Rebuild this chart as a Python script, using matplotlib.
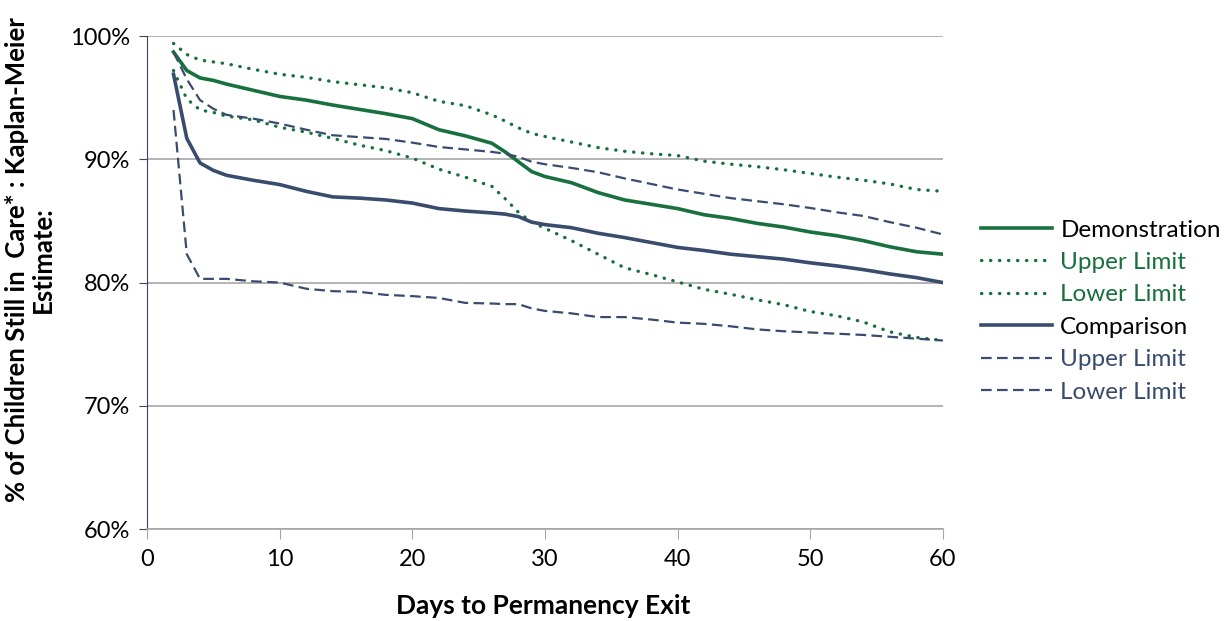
import matplotlib
matplotlib.use("Agg")
import matplotlib.pyplot as plt
from matplotlib.ticker import FuncFormatter

plt.rcParams["font.family"] = ["Lato", "DejaVu Sans"]

# days since entry
days = [2, 3, 4, 5, 6, 8, 10, 12, 14, 16, 18, 20, 22, 24, 26, 27, 28, 29, 30,
        32, 34, 36, 38, 40, 42, 44, 46, 48, 50, 52, 54, 56, 58, 60]

demo = [98.7, 97.2, 96.6, 96.4, 96.1, 95.6, 95.1, 94.8, 94.4, 94.05, 93.7, 93.3,
        92.4, 91.9, 91.3, 90.6, 89.8, 89.0, 88.6, 88.1, 87.3, 86.7, 86.35, 86.0,
        85.5, 85.2, 84.8, 84.5, 84.1, 83.8, 83.4, 82.9, 82.5, 82.3]
demo_upper = [99.4, 98.5, 98.05, 97.9, 97.75, 97.3, 96.9, 96.65, 96.3, 96.05,
              95.8, 95.4, 94.7, 94.35, 93.6, 93.1, 92.55, 92.1, 91.85, 91.4,
              90.95, 90.65, 90.45, 90.3, 89.85, 89.6, 89.4, 89.15, 88.85, 88.55,
              88.3, 88.0, 87.55, 87.4]
demo_lower = [97.2, 94.9, 94.0, 93.8, 93.5, 93.2, 92.6, 92.2, 91.7, 91.15, 90.7,
              90.1, 89.2, 88.55, 87.8, 86.8, 85.7, 84.9, 84.4, 83.4, 82.3, 81.2,
              80.65, 80.05, 79.45, 79.05, 78.6, 78.2, 77.65, 77.3, 76.8, 76.0,
              75.55, 75.3]

comp = [96.9, 91.7, 89.7, 89.1, 88.7, 88.3, 87.95, 87.4, 86.95, 86.85, 86.7,
        86.45, 86.0, 85.8, 85.65, 85.55, 85.35, 84.9, 84.7, 84.45, 84.0, 83.65,
        83.25, 82.85, 82.6, 82.3, 82.1, 81.9, 81.6, 81.35, 81.05, 80.7, 80.4, 80.0]
comp_upper = [98.7, 96.5, 94.8, 94.1, 93.6, 93.3, 92.9, 92.4, 91.95, 91.8, 91.65,
              91.35, 91.0, 90.8, 90.6, 90.45, 90.2, 89.8, 89.6, 89.3, 88.95,
              88.45, 88.0, 87.55, 87.2, 86.85, 86.6, 86.35, 86.05, 85.7, 85.4,
              84.9, 84.45, 83.9]
comp_lower = [94.0, 82.3, 80.3, 80.3, 80.3, 80.1, 80.0, 79.5, 79.3, 79.25, 79.0,
              78.9, 78.75, 78.35, 78.3, 78.25, 78.25, 77.9, 77.7, 77.5, 77.2,
              77.2, 77.0, 76.75, 76.65, 76.45, 76.2, 76.05, 75.95, 75.85, 75.75,
              75.6, 75.45, 75.3]

green = "#19703f"
blue = "#3a4c6e"

fig = plt.figure(figsize=(12.31, 6.21), dpi=100)
ax = fig.add_axes([0.1194, 0.148, 0.6466, 0.794])

dot = (0, (0.1, 2.6))
dash = (0, (4.8, 2.4))
ax.plot(days, demo, color=green, lw=2.6, label="Demonstration")
ax.plot(days, demo_upper, color=green, lw=2.4, ls=dot, dash_capstyle="round", label="Upper Limit")
ax.plot(days, demo_lower, color=green, lw=2.4, ls=dot, dash_capstyle="round", label="Lower Limit")
ax.plot(days, comp, color=blue, lw=2.6, label="Comparison")
ax.plot(days, comp_upper, color=blue, lw=1.6, ls=dash, label="Upper Limit")
ax.plot(days, comp_lower, color=blue, lw=1.6, ls=dash, label="Lower Limit")

ax.set_xlim(0, 60)
ax.set_ylim(60, 100)
ax.set_xticks(range(0, 61, 10))
ax.set_yticks(range(60, 101, 10))
ax.yaxis.set_major_formatter(FuncFormatter(lambda v, p: f"{v:.0f}%"))
ax.grid(axis="y", color="#a6a6a6", lw=1.2)
ax.set_axisbelow(True)

for s in ["top", "right"]:
    ax.spines[s].set_visible(False)
ax.spines["left"].set_color("#3a4660")
ax.spines["bottom"].set_color("#a6a6a6")
ax.spines["bottom"].set_linewidth(1.2)
ax.tick_params(axis="y", colors="#3a4660", labelcolor="black", length=6, labelsize=17, pad=6)
ax.tick_params(axis="x", colors="#a6a6a6", labelcolor="black", length=7, labelsize=17, pad=7)

# axis titles
fig.text(543 / 1231, 1 - 606 / 621, "Days to Permanency Exit", fontsize=19,
         fontweight="bold", ha="center", va="center")
fig.text(30 / 1231, 1 - 260 / 621, "% of Children Still in  Care* : Kaplan-Meier\nEstimate:",
         fontsize=18.5, fontweight="bold", rotation=90, ha="center", va="center",
         multialignment="center", linespacing=1.1)

leg = ax.legend(loc="center left", bbox_to_anchor=(1.036, 0.442), frameon=False,
                borderaxespad=0, fontsize=17.5, handlelength=2.9, handletextpad=0.35,
                labelspacing=0.47)
for txt, c in zip(leg.get_texts(), ["black", green, green, "black", blue, blue]):
    txt.set_color(c)

fig.savefig("out.png", dpi=100)
